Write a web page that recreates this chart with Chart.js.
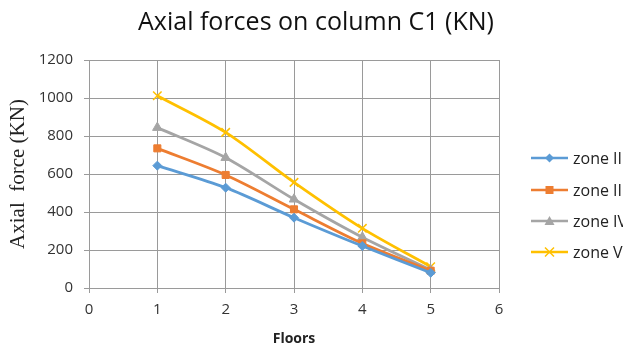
<html>
<head>
  <title>Axial forces on column C1</title>
  <style>
    html, body { margin: 0; padding: 0; background: #fff; overflow: hidden; }
    .canvas { width: 623px; height: 347px; position: relative; }
  </style>
  <script src="https://cdn.jsdelivr.net/npm/chart.js@4.4.0/dist/chart.umd.min.js"></script>
</head>
<body>
  <div class="canvas">
    <canvas id="chart"></canvas>
  </div>
  <script>
    const floors = [1, 2, 3, 4, 5];
    const zoneII = [644, 528, 370, 221, 80];
    const zoneIII = [735, 595, 414, 235, 91];
    const zoneIV = [844, 686, 467, 267, 95];
    const zoneV = [1012, 819, 556, 314, 112];
    const seriesNames = ['zone II', 'zone III', 'zone IV', 'zone V'];
    const yTicks = [0, 200, 400, 600, 800, 1000, 1200];
    const xTicks = [0, 1, 2, 3, 4, 5, 6];
    const chartTitle = 'Axial forces on column C1 (KN)';

    const colors = {
      blue: '#5B9BD5',
      orange: '#ED7D31',
      grey: '#A5A5A5',
      yellow: '#FFC000',
    };
    const gridColor = '#9a9a9a';
    const sans = "'Open Sans', 'Liberation Sans', sans-serif";
    const tickFont = { family: sans, size: 15 };

    const makeSet = (label, values, color, pointStyle, radius) => ({
      label,
      data: floors.map((f, i) => ({ x: f, y: values[i] })),
      borderColor: color,
      backgroundColor: color,
      borderWidth: 2.8,
      pointStyle,
      pointRadius: radius,
      pointBorderWidth: pointStyle === 'crossRot' ? 1.5 : 1,
      tension: 0.3,
      fill: false,
    });

    const datasets = [
      makeSet(seriesNames[0], zoneII, colors.blue, 'rectRot', 4.5),
      makeSet(seriesNames[1], zoneIII, colors.orange, 'rect', 5),
      makeSet(seriesNames[2], zoneIV, colors.grey, 'triangle', 5.5),
      makeSet(seriesNames[3], zoneV, colors.yellow, 'crossRot', 6),
    ];

    // title centred on the whole canvas + legend with line and marker on the right
    const extras = {
      id: 'extras',
      afterDraw(chart) {
        const ctx = chart.ctx;
        ctx.save();
        ctx.fillStyle = '#111';
        ctx.font = '25px ' + sans;
        ctx.textAlign = 'center';
        ctx.textBaseline = 'middle';
        ctx.fillText(chartTitle, 316, 23);

        const x0 = 531, x1 = 568, textX = 573;
        const ys = [158, 190, 221, 252];
        chart.data.datasets.forEach((ds, i) => {
          const y = ys[i];
          ctx.strokeStyle = ds.borderColor;
          ctx.fillStyle = ds.borderColor;
          ctx.lineWidth = 2.6;
          ctx.beginPath();
          ctx.moveTo(x0, y);
          ctx.lineTo(x1, y);
          ctx.stroke();
          const cx = (x0 + x1) / 2;
          ctx.beginPath();
          if (ds.pointStyle === 'rectRot') {
            ctx.moveTo(cx, y - 4.5); ctx.lineTo(cx + 4.5, y); ctx.lineTo(cx, y + 4.5); ctx.lineTo(cx - 4.5, y);
            ctx.closePath(); ctx.fill();
          } else if (ds.pointStyle === 'rect') {
            ctx.rect(cx - 4, y - 4, 8, 8); ctx.fill();
          } else if (ds.pointStyle === 'triangle') {
            ctx.moveTo(cx, y - 5); ctx.lineTo(cx + 5, y + 4); ctx.lineTo(cx - 5, y + 4);
            ctx.closePath(); ctx.fill();
          } else {
            ctx.lineWidth = 1.5;
            ctx.moveTo(cx - 4.5, y - 4.5); ctx.lineTo(cx + 4.5, y + 4.5);
            ctx.moveTo(cx + 4.5, y - 4.5); ctx.lineTo(cx - 4.5, y + 4.5);
            ctx.stroke();
          }
          ctx.fillStyle = '#222';
          ctx.font = '16px ' + sans;
          ctx.textAlign = 'left';
          ctx.fillText(ds.label, textX, y + 1);
        });
        ctx.restore();
      },
    };

    window.chartObj = new Chart(document.querySelector('canvas#chart'), {
      type: 'line',
      data: { datasets },
      plugins: [extras],
      options: {
        responsive: true,
        maintainAspectRatio: false,
        animation: false,
        layout: { padding: { left: 0, right: 124, top: 60, bottom: 0 } },
        plugins: {
          legend: { display: false },
          tooltip: { enabled: false },
          title: { display: false },
        },
        scales: {
          x: {
            type: 'linear',
            min: 0,
            max: 6,
            afterBuildTicks: (scale) => { scale.ticks = xTicks.map(v => ({ value: v })); },
            afterFit: (scale) => { scale.height = 59; },
            ticks: { color: '#333', font: tickFont, padding: 8, callback: v => String(v) },
            grid: { color: gridColor, tickLength: 5, tickColor: gridColor },
            border: { color: gridColor },
            title: {
              display: true,
              text: 'Floors',
              color: '#222',
              font: { family: sans, size: 14, weight: 'bold' },
              padding: { top: 2, bottom: 0 },
            },
          },
          y: {
            min: 0,
            max: 1200,
            afterBuildTicks: (scale) => { scale.ticks = yTicks.map(v => ({ value: v })); },
            afterFit: (scale) => { scale.width = 89; },
            ticks: { color: '#333', font: tickFont, padding: 11, callback: v => String(v) },
            grid: { color: gridColor, tickLength: 5, tickColor: gridColor },
            border: { color: gridColor },
            title: {
              display: true,
              text: 'Axial  force (KN)',
              color: '#222',
              font: { family: "'Liberation Serif', serif", size: 21 },
              padding: { top: 6, bottom: 0 },
            },
          },
        },
      },
    });
  </script>
</body>
</html>
